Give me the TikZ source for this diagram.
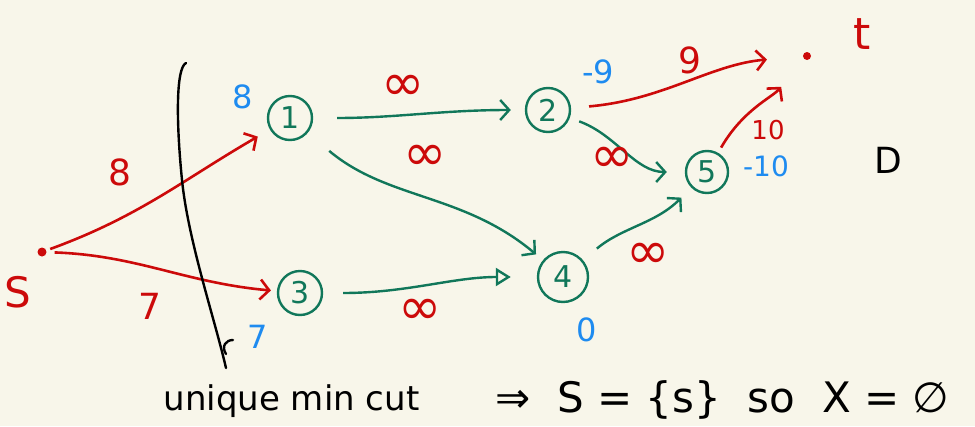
\documentclass[tikz,border=0pt]{standalone}
\usepackage{fontspec}
\setmainfont{DejaVu Sans}
\usetikzlibrary{arrows.meta}
\definecolor{bgc}{HTML}{F8F6EA}
\definecolor{redc}{HTML}{CC0A0A}
\definecolor{greenc}{HTML}{11775A}
\definecolor{bluec}{HTML}{1E8BF0}
\tikzset{
  vert/.style={circle,draw=greenc,text=greenc,line width=2.4pt,minimum size=44pt,inner sep=0pt,font=\fontsize{30}{32}\selectfont},
  term/.style={circle,fill=redc,minimum size=8pt,inner sep=0pt},
  redarr/.style={draw=redc,line width=2.6pt,-{Straight Barb[length=9pt,width=20pt,line width=2.6pt]}},
  grnarr/.style={draw=greenc,line width=2.4pt,-{Straight Barb[length=9pt,width=20pt,line width=2.4pt]}},
  grntri/.style={draw=greenc,line width=2.4pt,-{Triangle[open,length=15pt,width=18pt,line width=2.4pt]}},
  capl/.style={text=redc,font=\fontsize{36}{38}\selectfont},
  inf/.style={text=redc,font=\fontsize{52}{54}\selectfont},
  pot/.style={text=bluec,font=\fontsize{32}{34}\selectfont},
  note/.style={text=black,anchor=base west},
}
\begin{document}
\begin{tikzpicture}[x=1pt,y=-1pt]
\fill[bgc] (0,0) rectangle (975,426);
\useasboundingbox (0,0) rectangle (975,426);

% nodes
\node[term,minimum size=9pt] (s) at (42,252) {};
\node[term] (t) at (807,56) {};
\node[vert] (n1) at (290,118) {1};
\node[vert] (n2) at (548,110) {2};
\node[vert] (n3) at (300,293) {3};
\node[vert,minimum size=50pt] (n4) at (563,277) {4};
\node[vert,minimum size=42pt] (n5) at (707,172) {5};

% terminal labels
\node[text=redc,font=\fontsize{42}{44}\selectfont] (sl) at (18,292) {S};
\node[text=redc,font=\fontsize{44}{46}\selectfont] (tl) at (862,34) {t};
\node[text=black,font=\fontsize{36}{38}\selectfont] (dl) at (888,160) {D};

% potentials
\node[pot] (p1) at (243,97) {8};
\node[pot] (p2) at (598,72) {-9};
\node[pot] (p3) at (258,337) {7};
\node[pot] (p4) at (587,330) {0};
\node[pot,font=\fontsize{28}{30}\selectfont] (p5) at (766,166) {-10};

% red edges from s
\draw[redarr,shorten <=4pt,shorten >=14pt] (s) to[out=20,in=210] (n1);
\draw[redarr,shorten <=8pt,shorten >=6pt] (s) to[out=-2,in=175] (n3);
\node[capl] (c8) at (120,172) {8};
\node[capl] (c7) at (150,306) {7};

% green edges
\draw[grnarr,shorten <=24pt,shorten >=14pt] (n1) to[out=0,in=180] (n2);
\node[inf] (c12) at (403,88) {∞};
\draw[grnarr,shorten <=28pt,shorten >=9pt] (n1) to[out=-40,in=140] (n4);
\node[inf] (c14) at (425,158) {∞};
\draw[grntri,shorten <=20pt,shorten >=26pt] (n3) to[out=0,in=180] (n4);
\node[inf] (c34) at (420,312) {∞};
\draw[grnarr,shorten <=10pt,shorten >=18pt] (n2) to[out=-20,in=180] (n5);
\node[inf] (c25) at (612,160) {∞};
\draw[grnarr,shorten <=18pt,shorten >=14pt] (n4) to[out=40,in=225] (n5);
\node[inf] (c45) at (648,256) {∞};

% red edges to t
\draw[redarr,shorten <=18pt,shorten >=36pt] (n2) to[out=5,in=185] (t);
\node[capl] (c2t) at (690,60) {9};
\draw[redarr,shorten <=6pt,shorten >=36pt] (n5) to[out=60,in=230] (t);
\node[capl,font=\fontsize{26}{28}\selectfont] (c5t) at (768,130) {10};

% cut curve
\draw[black,line width=2.4pt,line cap=round] (186,63) .. controls (176,68) and (176,120) .. (182,180)
  .. controls (188,240) and (215,320) .. (226,368);
\draw[black,line width=2.4pt,line cap=round] (233,340) .. controls (226,340) and (221,346) .. (226,354);

% notes
\node[note,font=\fontsize{34}{38}\selectfont] (n6) at (160,410) {unique min cut};
\node[note,font=\fontsize{42}{46}\selectfont] (n7) at (492,412) {⇒\ \ S = \{s\}\ \ so\ \ X = ∅};
\end{tikzpicture}
\end{document}
